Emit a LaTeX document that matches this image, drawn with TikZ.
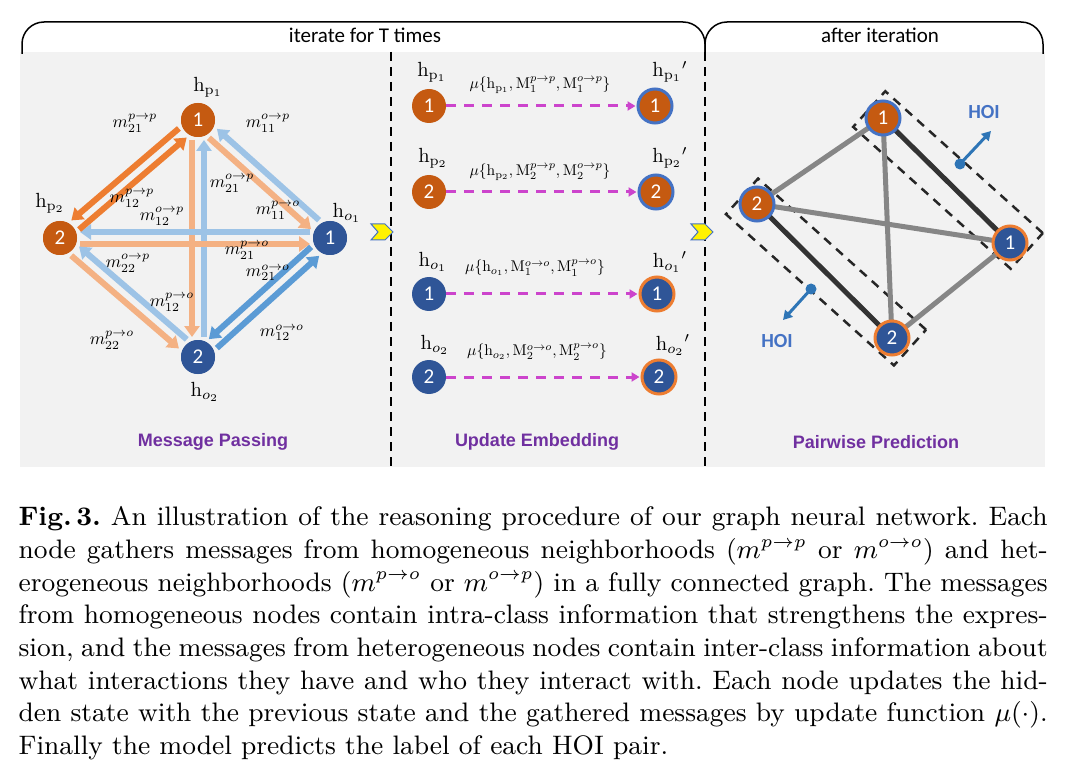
\documentclass[tikz,border=0pt]{standalone}
\usepackage{fontspec}
\newfontfamily\sansf{Liberation Sans}
\newfontfamily\calib{Carlito}
\usetikzlibrary{arrows.meta,calc}
\definecolor{pdark}{HTML}{C55A11}
\definecolor{odark}{HTML}{2F5597}
\definecolor{lor}{HTML}{F4B183}
\definecolor{lbl}{HTML}{9DC3E6}
\definecolor{dor}{HTML}{ED7D31}
\definecolor{dbl}{HTML}{5B9BD5}
\definecolor{ring}{HTML}{4472C4}
\definecolor{purp}{HTML}{7030A0}
\definecolor{mag}{HTML}{CC44CC}
\definecolor{hoi}{HTML}{2E75B6}
\tikzset{
 nd/.style={circle,inner sep=0pt,minimum size=34pt,text=white,font=\calib\fontsize{21}{21}\selectfont},
 pn/.style={nd,fill=pdark},
 on/.style={nd,fill=odark},
 pu/.style={pn,draw=ring,line width=3pt},
 ou/.style={on,draw=dor,line width=3pt},
 marrow/.style={line width=6pt,shorten <=20pt,shorten >=20pt,-{Triangle[width=15pt,length=11pt]}},
 lab/.style={font=\fontsize{10}{12}\selectfont,inner sep=0pt,scale=1.75},
 mlab/.style={font=\fontsize{10}{12}\selectfont,inner sep=0pt,scale=1.55},
 hl/.style={font=\fontsize{10}{12}\selectfont,inner sep=0pt,scale=2.05},
 title/.style={font=\sansf\bfseries\fontsize{18}{20}\selectfont,text=purp},
 upd/.style={mag,line width=3pt,dash pattern=on 10pt off 8pt,-{Triangle[width=9pt,length=8pt]},shorten >=1pt},
 gedge/.style={gray!95,line width=5pt},
 bedge/.style={black!80,line width=5pt},
 box/.style={draw=black!85,line width=2.5pt,dash pattern=on 9pt off 7pt,inner sep=0pt},
 chev/.style={fill=yellow,draw=ring,line width=1pt},
 brace/.style={line width=1.5pt,rounded corners=22pt},
 top/.style={font=\calib\fontsize{21}{22}\selectfont},
}
\newcommand\msgarrow[3]{\draw[marrow,#3] ($(#1)!6pt!-90:(#2)$) -- ($(#2)!6pt!90:(#1)$);}
\begin{document}
\begin{tikzpicture}[x=1pt,y=-1pt]
\useasboundingbox (0,0) rectangle (1077,778);
\fill[white] (0,0) rectangle (1077,778);
\fill[black!5] (20,52) rectangle (1045,467);
% braces
\draw[brace] (22,54) -- (22,22) -- (705,22) -- (705,54);
\draw[brace] (705,54) -- (705,22) -- (1043,22) -- (1043,54);
\node[top] (t1) at (365,35) {iterate for T times};
\node[top] (t2) at (880,35) {after iteration};
% separators
\draw[line width=2pt,dash pattern=on 9pt off 6pt] (391,52) -- (391,467);
\draw[line width=2pt,dash pattern=on 9pt off 6pt] (705,52) -- (705,467);
\draw[chev] (371,224) -- (385,224) -- (393,232) -- (385,240) -- (371,240) -- (378,232) -- cycle;
\draw[chev] (691,224) -- (705,224) -- (713,232) -- (705,240) -- (691,240) -- (698,232) -- cycle;
% ---------- left panel
\node[pn] (p1) at (198,120) {1};
\node[pn] (p2) at (60,238) {2};
\node[on] (o1) at (330,238) {1};
\node[on] (o2) at (198,357) {2};
\msgarrow{p1}{o2}{lor}
\msgarrow{o2}{p1}{lbl}
\msgarrow{o1}{p2}{lbl}
\msgarrow{p2}{o1}{lor}
\msgarrow{p1}{o1}{lor}
\msgarrow{o1}{p1}{lbl}
\msgarrow{o2}{p2}{lbl}
\msgarrow{p2}{o2}{lor}
\msgarrow{p2}{p1}{dor}
\msgarrow{p1}{p2}{dor}
\msgarrow{o1}{o2}{dbl}
\msgarrow{o2}{o1}{dbl}
\node[pn] at (p1) {1};\node[pn] at (p2) {2};\node[on] at (o1) {1};\node[on] at (o2) {2};
\node[hl] (lp1) at (208,87) {$\mathrm{h}_{\mathrm{p}_1}$};
\node[hl] (lp2) at (50,203) {$\mathrm{h}_{\mathrm{p}_2}$};
\node[hl] (lo1) at (347,213) {$\mathrm{h}_{o_1}$};
\node[hl] (lo2) at (205,392) {$\mathrm{h}_{o_2}$};
\node[lab] (a1) at (135,123) {$m_{21}^{p\to p}$};
\node[lab] (a2) at (268,123) {$m_{11}^{o\to p}$};
\node[lab] (a3) at (232,183) {$m_{21}^{o\to p}$};
\node[lab] (a4) at (132,198) {$m_{12}^{p\to p}$};
\node[lab] (a5) at (278,210) {$m_{11}^{p\to o}$};
\node[lab] (a6) at (162,216) {$m_{12}^{o\to p}$};
\node[lab] (a7) at (247,250) {$m_{21}^{p\to o}$};
\node[lab] (a8) at (128,263) {$m_{22}^{o\to p}$};
\node[lab] (a9) at (268,273) {$m_{21}^{o\to o}$};
\node[lab] (a10) at (172,302) {$m_{12}^{p\to o}$};
\node[lab] (a11) at (282,333) {$m_{12}^{o\to o}$};
\node[lab] (a12) at (112,340) {$m_{22}^{p\to o}$};
\node[title] (tt1) at (213,442) {Message Passing};
% ---------- middle panel
\foreach \y/\n/\s/\k in {106/a/pn/1,192/b/pn/2,294/c/on/1,377/d/on/2}{
  \node[\s] (l\n) at (429,\y) {\k};
}
\node[pu] (ra) at (655,106) {1};
\node[pu] (rb) at (656,192) {2};
\node[ou] (rc) at (657,294) {1};
\node[ou] (rd) at (659,377) {2};
\draw[upd] (la) -- (ra); \draw[upd] (lb) -- (rb); \draw[upd] (lc) -- (rc); \draw[upd] (ld) -- (rd);
\node[hl] at (432,72) {$\mathrm{h}_{\mathrm{p}_1}$};
\node[hl] at (433,158) {$\mathrm{h}_{\mathrm{p}_2}$};
\node[hl] at (433,262) {$\mathrm{h}_{o_1}$};
\node[hl] at (435,345) {$\mathrm{h}_{o_2}$};
\node[hl] at (670,72) {$\mathrm{h}_{\mathrm{p}_1}{}'$};
\node[hl] at (670,158) {$\mathrm{h}_{\mathrm{p}_2}{}'$};
\node[hl] at (670,262) {$\mathrm{h}_{o_1}{}'$};
\node[hl] at (673,345) {$\mathrm{h}_{o_2}{}'$};
\node[mlab] at (540,85) {$\mu\{\mathrm{h}_{\mathrm{p}_1},\mathrm{M}_1^{p\to p},\mathrm{M}_1^{o\to p}\}$};
\node[mlab] at (540,172) {$\mu\{\mathrm{h}_{\mathrm{p}_2},\mathrm{M}_2^{p\to p},\mathrm{M}_2^{o\to p}\}$};
\node[mlab] at (535,268) {$\mu\{\mathrm{h}_{o_1},\mathrm{M}_1^{o\to o},\mathrm{M}_1^{p\to o}\}$};
\node[mlab] at (537,352) {$\mu\{\mathrm{h}_{o_2},\mathrm{M}_2^{o\to o},\mathrm{M}_2^{p\to o}\}$};
\node[title] (tt2) at (537,442) {Update Embedding};
% ---------- right panel
\coordinate (q1) at (883,118);
\coordinate (q2) at (757,204);
\coordinate (r1) at (1010,243);
\coordinate (r2) at (892,338);
\node[box,rotate=-42,minimum width=212pt,minimum height=48pt] (bx1) at (948,180) {};
\node[box,rotate=-42,minimum width=226pt,minimum height=48pt] (bx2) at (826,272) {};
\draw[gedge] (q1) -- (q2); \draw[gedge] (q2) -- (r1); \draw[gedge] (q1) -- (r2); \draw[gedge] (r1) -- (r2);
\draw[bedge] (q1) -- (r1); \draw[bedge] (q2) -- (r2);
\node[pu] (s1) at (q1) {1};
\node[pu] (s2) at (q2) {2};
\node[ou] (u1) at (r1) {1};
\node[ou] (u2) at (r2) {2};
\coordinate (h1) at (960,164); \coordinate (h1e) at (991,131);
\coordinate (h2) at (811,289); \coordinate (h2e) at (783,320);
\fill[hoi] (h1) circle (5.5pt); \fill[hoi] (h2) circle (5.5pt);
\draw[hoi,line width=3pt,-{Triangle[width=10pt,length=9pt]}] (h1) -- (h1e);
\draw[hoi,line width=3pt,-{Triangle[width=10pt,length=9pt]}] (h2) -- (h2e);
\node[font=\calib\bfseries\fontsize{20}{22}\selectfont,text=ring] (hl1) at (984,112) {HOI};
\node[font=\calib\bfseries\fontsize{20}{22}\selectfont,text=ring] (hl2) at (777,341) {HOI};
\node[title] (tt3) at (876,442) {Pairwise Prediction};
% ---------- caption
\node[anchor=north west,inner sep=0pt,scale=2.97,text width=346.5pt,align=justify,font=\fontsize{9}{11}\selectfont\frenchspacing] (cap) at (18,506) {%
\textbf{Fig.\,3.} An illustration of the reasoning procedure of our graph neural network. Each\linebreak
node gathers messages from homogeneous neighborhoods ($m^{p\to p}$ or $m^{o\to o}$) and het-\linebreak
erogeneous neighborhoods ($m^{p\to o}$ or $m^{o\to p}$) in a fully connected graph. The messages\linebreak
from homogeneous nodes contain intra-class information that strengthens the expres-\linebreak
sion, and the messages from heterogeneous nodes contain inter-class information about\linebreak
what interactions they have and who they interact with. Each node updates the hid-\linebreak
den state with the previous state and the gathered messages by update function $\mu(\cdot)$.\linebreak
Finally the model predicts the label of each HOI pair.};
\end{tikzpicture}
\end{document}
